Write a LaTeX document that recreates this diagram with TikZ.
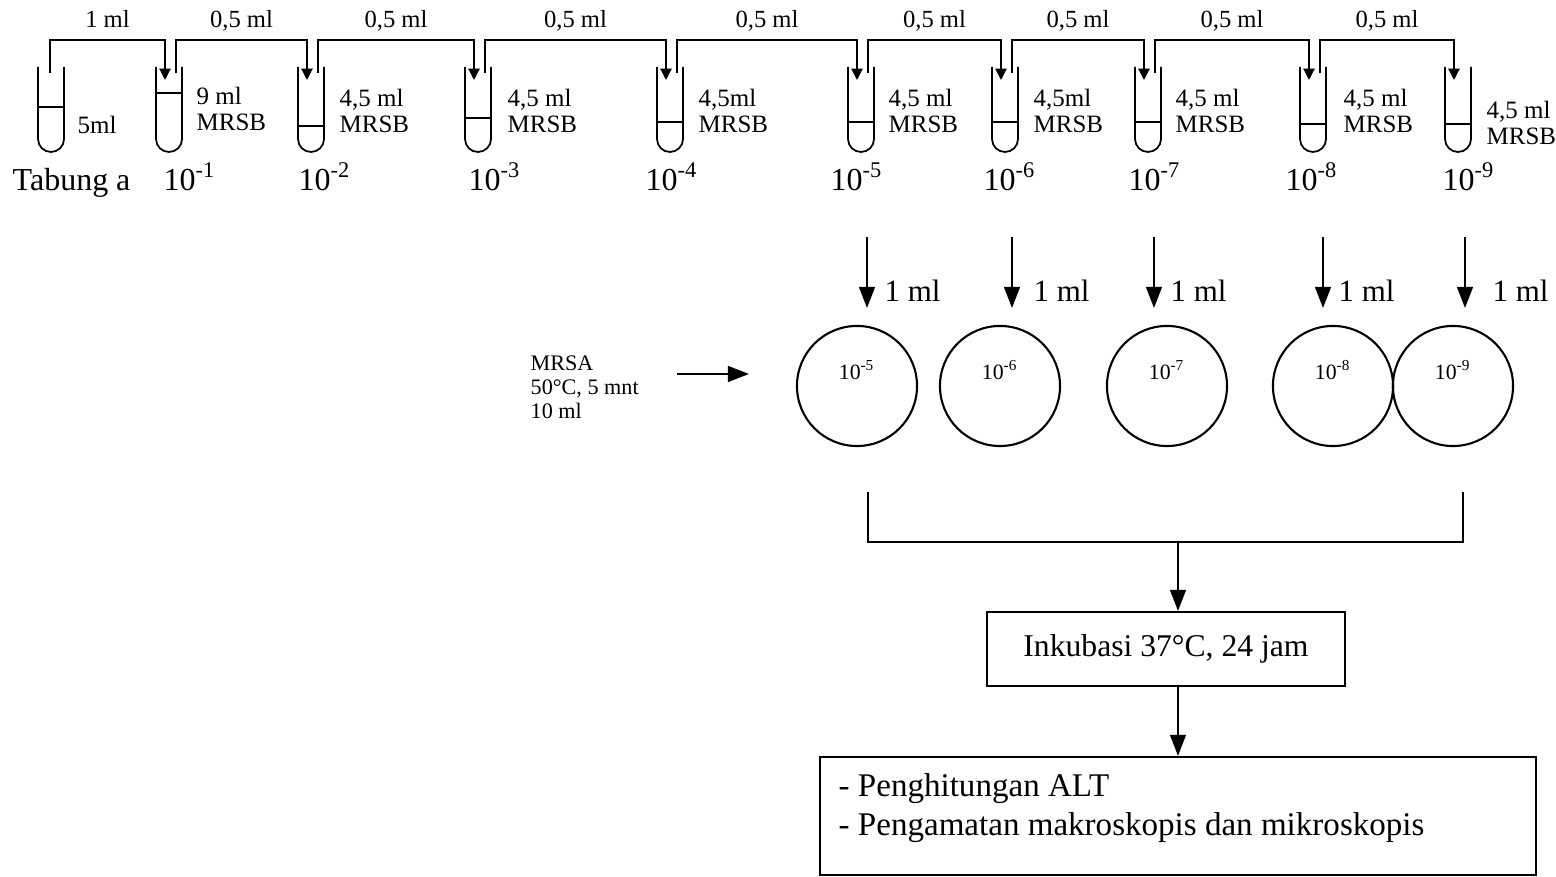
\documentclass[tikz,border=0pt]{standalone}
\usepackage{fontspec}
\setmainfont{Liberation Serif}
\usetikzlibrary{arrows.meta}

\tikzset{
  tube/.style={line width=0.5pt},
  vol/.style={font=\fontsize{7}{8}\selectfont, inner sep=0pt},
  tubelbl/.style={font=\fontsize{7.1}{7.4}\selectfont, align=left, inner sep=0pt},
  dil/.style={font=\fontsize{9.1}{11}\selectfont, inner sep=0pt},
  plate/.style={draw, circle, line width=0.6pt, minimum size=1.2cm, inner sep=0pt},
  platelbl/.style={font=\fontsize{6.2}{7}\selectfont, inner sep=0pt},
  smalltip/.style={line width=0.35pt, -{Triangle[length=3.2pt,width=3.2pt]}},
  bigtip/.style={line width=0.6pt, -{Triangle[length=6pt,width=4.5pt]}},
  stepbox/.style={draw, line width=0.6pt, inner sep=0pt},
}

\begin{document}
\begin{tikzpicture}[x=0.01cm, y=-0.01cm]
  \useasboundingbox (0,0) rectangle (1556,877);

  % tubes: number / centre / liquid level
  \foreach \n/\c/\lv in {0/51/107, 1/169/93, 2/311/126, 3/478/118, 4/670/122,
                         5/861/122, 6/1005/122, 7/1148/122, 8/1313/124, 9/1458/124} {
    \draw[tube] (\c-13,67) -- (\c-13,139) arc[start angle=180, end angle=360, radius=0.13cm] -- (\c+13,67);
    \draw[tube] (\c-13,\lv) -- (\c+13,\lv);
    \coordinate (t\n-in) at (\c-4,80);
    \coordinate (t\n-out) at (\c+7,73);
  }
  \coordinate (t0-out) at (50,73);
  \coordinate (rail) at (0,40);

  % transfers between tubes
  \draw[smalltip] (t0-out) -- (t0-out |- rail) -- (t1-in |- rail)
    node[midway, vol, anchor=base, yshift=3.5pt] (v1) {1 ml} -- (t1-in);
  \foreach \a in {1,...,8} {
    \pgfmathtruncatemacro{\b}{\a+1}
    \draw[smalltip] (t\a-out) -- (t\a-out |- rail) -- (t\b-in |- rail)
      node[midway, vol, anchor=base, yshift=3.5pt] (v\b) {0,5 ml} -- (t\b-in);
  }

  % tube contents
  \node[tubelbl, anchor=north west] (c0) at (77,115) {5ml};
  \node[tubelbl, anchor=north west] (c1) at (196,86) {9 ml\\MRSB};
  \node[tubelbl, anchor=north west] (c2) at (339,88) {4,5 ml\\MRSB};
  \node[tubelbl, anchor=north west] (c3) at (507,88) {4,5 ml\\MRSB};
  \node[tubelbl, anchor=north west] (c4) at (698,88) {4,5ml\\MRSB};
  \node[tubelbl, anchor=north west] (c5) at (888,88) {4,5 ml\\MRSB};
  \node[tubelbl, anchor=north west] (c6) at (1033,88) {4,5ml\\MRSB};
  \node[tubelbl, anchor=north west] (c7) at (1175,88) {4,5 ml\\MRSB};
  \node[tubelbl, anchor=north west] (c8) at (1343,88) {4,5 ml\\MRSB};
  \node[tubelbl, anchor=north west] (c9) at (1486,100) {4,5 ml\\MRSB};

  % dilutions
  \node[dil, anchor=base west] (d0) at (12,191) {Tabung a};
  \foreach \n/\x in {1/163, 2/298, 3/468, 4/645, 5/830, 6/983, 7/1128, 8/1285, 9/1442}
    \node[dil, anchor=base west] (d\n) at (\x,191) {10\textsuperscript{-\n}};

  % plates
  \foreach \n/\x/\ax/\lx in {5/857/867/884, 6/1000/1012/1033, 7/1167/1154/1170,
                              8/1333/1323/1338, 9/1453/1465/1492} {
    \node[plate] (p\n) at (\x,386) {};
    \node[platelbl] (pl\n) at (\x,370) {10\textsuperscript{-\n}};
    \coordinate (s\n) at (\ax,237);
    \coordinate (e\n) at (\ax,308);
    \draw[bigtip] (s\n) -- (e\n);
    \node[dil, font=\fontsize{8.8}{10}\selectfont, anchor=base west] (ml\n) at (\lx,302) {1 ml};
  }

  % medium
  \node[font=\fontsize{6.3}{6.8}\selectfont, align=left, inner sep=0pt, anchor=west] (mrsa) at (530,387)
    {MRSA\\50\textdegree C, 5 mnt\\10 ml};
  \coordinate (m1) at (677,374);
  \coordinate (m2) at (749,374);
  \draw[bigtip] (m1) -- (m2);

  % collect and incubate
  \coordinate (bl) at (868,492);
  \coordinate (br) at (1463,492);
  \coordinate (bm) at (1178,542);
  \draw[line width=0.6pt] (bl) |- (br |- bm) -- (br);
  \node[stepbox, minimum width=3.58cm, minimum height=0.74cm, font=\fontsize{9}{11}\selectfont]
    (inc) at (1166,649) {Inkubasi 37\textdegree C, 24 jam};
  \node[stepbox, minimum width=7.16cm, minimum height=1.18cm] (res) at (1178,816) {};
  \node[font=\fontsize{9.4}{11}\selectfont, align=left, inner sep=0pt, anchor=north west] (restxt) at (838,773)
    {- Penghitungan ALT\\- Pengamatan makroskopis dan mikroskopis};
  \draw[bigtip] (bm) -- (bm |- inc.north);
  \draw[bigtip] (inc.south -| bm) -- (res.north -| bm);
\end{tikzpicture}
\end{document}
